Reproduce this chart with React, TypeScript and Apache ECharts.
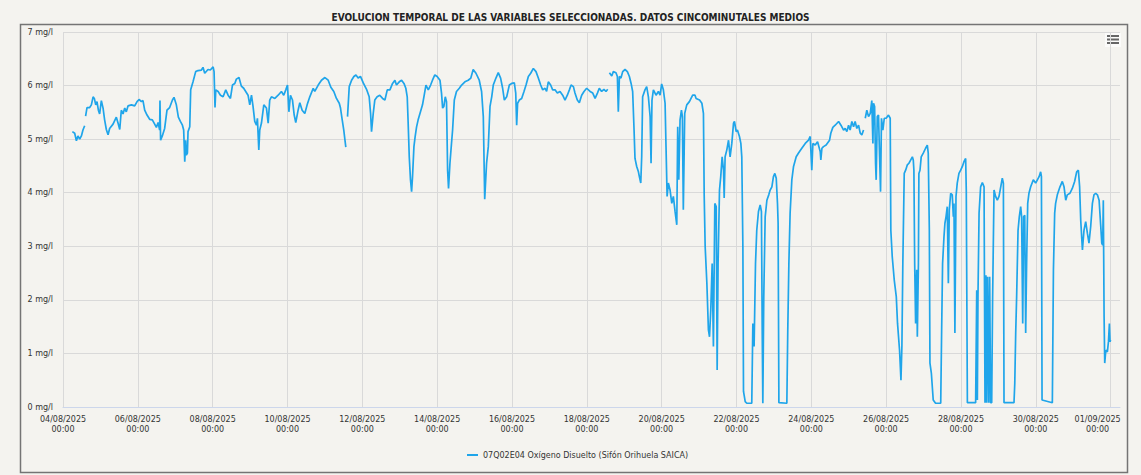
import React, { useEffect, useRef } from 'react';
import * as echarts from 'echarts';

const TITLE = 'EVOLUCION TEMPORAL DE LAS VARIABLES SELECCIONADAS. DATOS CINCOMINUTALES MEDIOS';
const SERIES_NAME = '07Q02E04 Oxígeno Disuelto (Sifón Orihuela SAICA)';
const UNIT = 'mg/l';
// hours since 04/08/2025 00:00
const X_TICK_HOURS = [0, 48, 96, 144, 192, 240, 288, 336, 384, 432, 480, 528, 576, 624, 672];
const X_TICK_DATES = [
  '04/08/2025', '06/08/2025', '08/08/2025', '10/08/2025', '12/08/2025', '14/08/2025', '16/08/2025',
  '18/08/2025', '20/08/2025', '22/08/2025', '24/08/2025', '26/08/2025', '28/08/2025', '30/08/2025', '01/09/2025',
];
const X_TICK_TIME = '00:00';
const X_MAX_HOURS = 678;
const Y_TICKS = [0, 1, 2, 3, 4, 5, 6, 7];

type P = [number, number | null];

const week1: P[] = [
  [6.0, 5.14], [7.5, 5.11], [8.6, 4.97], [9.6, 5.06], [10.7, 5.0], [11.8, 5.06], [12.8, 5.17], [13.9, 5.25], [14.2, null],
  [14.5, 5.43], [15.4, 5.59], [17.1, 5.59], [18.2, 5.64], [19.3, 5.79], [20.1, 5.76], [21.0, 5.64], [21.8, 5.7], [22.7, 5.54],
  [23.5, 5.47], [24.6, 5.72], [25.7, 5.58], [26.7, 5.36], [27.8, 5.18], [28.9, 5.08], [29.9, 5.2], [32.1, 5.28], [34.2, 5.41],
  [35.3, 5.3], [36.4, 5.18], [37.4, 5.54], [38.5, 5.47], [39.6, 5.58], [40.6, 5.51], [41.7, 5.62], [43.9, 5.64], [46.0, 5.62],
  [47.5, 5.7], [48.8, 5.74], [50.3, 5.7], [51.3, 5.72], [52.4, 5.54], [53.9, 5.45], [55.6, 5.37], [57.3, 5.36], [58.8, 5.28],
  [59.9, 5.22], [61.0, 5.31], [62.0, 5.17], [62.2, 5.72], [62.6, 4.98], [63.7, 5.06], [65.2, 5.2], [66.7, 5.54], [68.4, 5.59],
  [70.2, 5.73], [71.2, 5.78], [72.7, 5.64], [74.0, 5.41], [75.3, 5.33], [76.6, 5.26], [77.4, 5.17], [78.1, 4.58], [78.7, 4.98],
  [79.1, 4.7], [79.8, 4.74], [80.2, 5.14], [81.3, 5.23], [81.9, 5.92], [83.4, 6.07], [85.1, 6.26], [86.6, 6.28], [88.8, 6.29],
  [89.8, 6.34], [90.9, 6.23], [93.0, 6.3], [94.5, 6.29], [96.3, 6.35], [96.9, 6.26], [97.5, 5.59], [98.0, 5.92], [99.5, 5.89],
  [101.0, 5.82], [102.7, 5.79], [104.4, 5.92], [105.9, 5.82], [107.4, 5.76], [108.7, 6.01], [110.2, 6.04], [111.2, 6.12],
  [112.9, 6.15], [114.4, 5.99], [115.9, 5.95], [117.2, 5.89], [118.7, 5.82], [119.8, 5.64], [120.9, 5.82], [121.9, 5.61],
  [123.0, 5.33], [124.1, 5.26], [124.7, 5.39], [125.6, 4.8], [126.2, 5.17], [127.3, 5.3], [128.8, 5.64], [130.5, 5.58],
  [131.6, 5.3], [132.6, 5.73], [133.7, 5.79], [135.9, 5.76], [138.0, 5.82], [140.1, 5.89], [141.6, 5.82], [142.9, 5.92],
  [144.0, 6.01], [144.9, 5.51], [145.9, 5.82], [147.2, 5.73], [148.3, 5.45], [149.3, 5.31], [150.8, 5.54], [151.9, 5.68],
  [153.4, 5.54], [155.1, 5.48], [156.6, 5.64], [158.3, 5.79], [160.5, 5.95], [161.5, 5.89], [163.7, 6.01], [165.8, 6.1], [168.0, 6.15],
];

const week2: P[] = [
  [170.1, 6.1], [171.8, 5.97], [173.7, 5.89], [175.4, 5.76], [177.2, 5.67], [178.0, 5.58], [179.1, 5.36], [180.1, 5.17],
  [181.0, 4.95], [181.4, 4.85], [181.9, null], [182.5, 5.42], [183.6, 5.98], [185.1, 6.1], [186.6, 6.17], [187.9, 6.2],
  [189.3, 6.14], [190.8, 6.17], [192.6, 6.05], [194.7, 5.93], [196.4, 5.79], [197.3, 5.48], [197.9, 5.14], [199.0, 5.48],
  [200.0, 5.73], [201.5, 5.79], [203.2, 5.82], [205.0, 5.76], [206.5, 5.73], [208.0, 5.92], [209.7, 5.92], [211.4, 6.04],
  [212.9, 6.1], [213.9, 6.01], [215.7, 6.07], [217.2, 6.1], [218.7, 6.04], [219.9, 5.95], [220.8, 5.79], [221.4, 5.3],
  [222.1, 4.67], [222.9, 4.24], [223.6, 4.02], [224.2, 4.3], [225.1, 4.86], [225.9, 5.05], [226.8, 5.23], [227.8, 5.36],
  [229.3, 5.51], [230.6, 5.64], [231.7, 5.82], [232.8, 6.01], [234.3, 5.92], [235.8, 6.01], [237.0, 6.1], [238.5, 6.2],
  [240.0, 6.17], [241.8, 6.1], [242.8, 5.86], [243.5, 5.58], [244.3, 5.61], [245.2, 5.79], [246.0, 5.7], [246.7, 4.42],
  [247.3, 4.08], [248.2, 4.55], [249.2, 4.92], [249.9, 5.17], [251.0, 5.73], [252.4, 5.89], [254.2, 5.95], [255.7, 6.01],
  [257.8, 6.07], [259.9, 6.1], [261.6, 6.14], [263.1, 6.3], [264.9, 6.23], [267.0, 6.1], [268.5, 5.89], [269.6, 5.42],
  [270.5, 3.88], [271.7, 4.55], [272.8, 4.86], [273.9, 5.61], [275.0, 5.79], [276.0, 6.01], [277.7, 6.14], [279.2, 6.24],
  [280.7, 6.14], [282.0, 5.95], [283.1, 5.73], [284.6, 5.79], [286.3, 6.01], [287.8, 6.04], [289.5, 6.05], [290.4, 5.86],
  [291.0, 5.26], [291.6, 5.67], [292.7, 5.73], [294.2, 5.76], [295.7, 5.89], [297.0, 6.01], [298.5, 6.17], [300.0, 6.23],
  [301.7, 6.32], [303.4, 6.26], [304.9, 6.14], [306.4, 6.01], [307.7, 5.92], [309.2, 5.95], [310.2, 5.89], [311.3, 6.07],
  [312.8, 6.01], [314.1, 5.92], [315.6, 5.92], [317.1, 5.86], [318.8, 5.89], [320.5, 5.82], [322.0, 5.73], [323.5, 5.82],
  [324.8, 5.92], [325.9, 6.01], [327.4, 5.98], [328.4, 5.86], [329.9, 5.73], [331.2, 5.68], [332.7, 5.82], [334.2, 5.89], [335.9, 5.95],
];

const week3: P[] = [
  [338.1, 5.89], [339.8, 5.86], [341.3, 5.76], [342.8, 5.86], [344.0, 5.95], [345.5, 5.89], [347.0, 5.93], [348.3, 5.89],
  [349.4, 5.93], [349.9, null], [350.5, 6.24], [352.0, 6.18], [353.0, 6.26], [354.7, 6.24], [355.6, 6.17], [356.2, 5.51],
  [356.9, 6.17], [357.9, 6.14], [359.0, 6.26], [360.5, 6.3], [362.0, 6.26], [363.3, 6.17], [364.4, 6.04], [365.4, 5.89],
  [366.3, 5.17], [366.9, 4.64], [368.0, 4.49], [369.1, 4.39], [369.7, 4.3], [370.6, 4.18], [371.2, 4.67], [371.8, 5.79],
  [373.3, 5.92], [374.4, 5.98], [375.5, 5.79], [376.6, 5.42], [377.2, 4.55], [377.8, 5.73], [378.7, 5.92], [380.4, 5.82],
  [381.9, 5.89], [383.0, 5.82], [384.0, 6.03], [385.1, 5.92], [386.2, 5.67], [386.8, 4.86], [387.5, 3.93], [388.3, 4.18],
  [389.4, 4.05], [390.5, 3.8], [391.5, 3.93], [392.6, 3.65], [393.7, 3.4], [394.3, 5.23], [395.0, 4.24], [395.8, 5.36],
  [396.7, 5.54], [397.3, 5.42], [397.9, 3.68], [398.8, 5.48], [400.1, 5.64], [401.8, 5.7], [403.9, 5.82], [405.4, 5.82],
  [406.1, 5.76], [408.3, 5.73], [409.8, 5.67], [410.8, 5.48], [411.3, 3.93], [411.9, 3.0], [413.0, 2.31], [414.0, 1.44],
  [414.7, 1.31], [415.5, 1.81], [416.4, 2.68], [417.2, 1.13], [418.1, 3.8], [419.0, 3.74], [419.6, 0.69], [420.2, 2.68],
  [421.1, 4.05], [421.9, 4.3], [422.8, 4.67], [423.7, 4.42], [424.1, 3.9], [424.7, 4.67], [425.8, 4.8], [426.9, 4.98],
  [427.9, 4.67], [429.0, 4.92], [430.1, 5.3], [430.7, 5.33], [431.8, 5.14], [432.6, 5.17], [433.9, 5.05], [434.8, 4.92],
  [435.4, 4.67], [436.1, 3.0], [436.5, 0.29], [437.6, 0.1], [438.6, 0.07], [441.8, 0.07], [442.5, 1.56], [443.3, 1.13],
  [444.2, 2.68], [445.0, 3.3], [446.1, 3.65], [447.2, 3.77], [448.0, 3.65], [448.5, 1.44], [448.9, 0.07], [449.5, 2.06],
  [450.4, 3.55], [451.5, 3.86], [452.7, 3.96], [453.6, 4.05], [454.7, 4.11], [455.7, 4.3], [456.6, 4.36], [457.5, 4.27],
  [458.3, 3.8], [458.7, 3.43], [459.2, 0.08], [464.3, 0.07], [464.9, 1.44], [465.6, 2.68], [466.4, 3.62], [467.5, 4.24],
  [468.6, 4.49], [470.3, 4.67], [471.8, 4.74], [473.9, 4.83], [476.1, 4.92], [478.2, 4.98], [479.3, 5.05], [480.3, 4.42],
  [481.0, 4.92], [482.5, 4.89], [484.0, 4.95], [485.7, 4.77], [486.1, 4.61], [486.8, 4.83], [487.8, 4.86], [489.5, 4.89],
  [491.7, 4.98], [492.5, 5.11], [493.8, 5.22], [495.3, 5.26], [497.5, 5.33], [499.0, 5.26], [500.7, 5.17], [501.7, 5.2], [502.8, 5.14],
];

const week4: P[] = [
  [503.9, 5.26], [504.9, 5.17], [506.0, 5.33], [507.1, 5.23], [508.1, 5.33], [509.2, 5.2], [510.3, 5.26], [511.4, 5.11],
  [512.4, 5.08], [513.5, 5.17], [514.0, null], [514.6, 5.39], [515.6, 5.54], [516.7, 5.42], [517.8, 5.48], [518.8, 5.72],
  [519.5, 4.92], [519.9, 5.67], [520.6, 5.61], [521.2, 4.55], [521.6, 4.24], [522.3, 5.42], [523.1, 5.45], [523.8, 4.67],
  [524.4, 4.02], [525.0, 5.39], [525.9, 5.17], [526.8, 5.39], [528.0, 5.39], [529.5, 5.45], [530.6, 5.39], [531.0, 3.3],
  [531.9, 2.81], [533.2, 2.37], [534.5, 2.06], [535.3, 1.56], [536.6, 1.06], [537.5, 0.5], [538.1, 1.13], [538.7, 2.68],
  [539.6, 4.36], [540.5, 4.42], [541.6, 4.52], [542.6, 4.55], [543.7, 4.61], [544.8, 4.67], [545.4, 4.61], [545.8, 4.42],
  [546.3, 2.68], [546.9, 1.56], [547.6, 2.56], [548.0, 1.31], [548.7, 2.68], [549.0, 4.36], [549.7, 4.42], [550.5, 4.67],
  [551.8, 4.74], [553.3, 4.83], [554.4, 4.89], [555.0, 4.74], [555.7, 3.3], [556.1, 0.82], [557.0, 0.63], [558.2, 0.13],
  [559.7, 0.07], [563.0, 0.07], [563.6, 1.44], [564.2, 2.68], [565.1, 3.18], [565.7, 3.43], [566.4, 3.55], [567.2, 3.74],
  [567.9, 2.31], [568.5, 3.68], [569.4, 3.99], [570.4, 3.96], [571.1, 3.55], [571.5, 3.8], [572.1, 1.38], [572.8, 3.93],
  [573.6, 4.18], [574.7, 4.36], [575.8, 4.42], [576.9, 4.49], [577.9, 4.58], [579.0, 4.64], [579.4, 4.05], [580.1, 0.08],
  [585.4, 0.08], [586.1, 2.18], [586.5, 0.13], [586.9, 2.06], [587.6, 3.62], [588.6, 4.11], [589.7, 4.19], [590.8, 4.11],
  [591.4, 0.08], [592.0, 2.46], [592.5, 0.08], [593.1, 2.43], [593.8, 0.08], [594.4, 2.43], [595.0, 0.08], [595.7, 0.08],
  [596.3, 2.06], [597.2, 4.05], [598.2, 3.93], [599.3, 3.86], [600.4, 3.93], [601.5, 4.11], [602.5, 4.27], [603.2, 4.18],
  [603.6, 0.08], [610.0, 0.08], [610.5, 0.44], [611.1, 1.38], [611.7, 2.06], [612.6, 3.3], [613.4, 3.55], [614.3, 3.74],
  [614.9, 3.55], [615.6, 1.56], [616.2, 3.55], [616.9, 3.58], [617.5, 1.38], [618.1, 2.68], [618.8, 3.8], [619.6, 3.99],
  [620.7, 4.11], [622.4, 4.24], [623.9, 4.18], [625.0, 4.24], [626.1, 4.3], [627.1, 4.39], [627.6, 4.3], [628.0, 0.13],
  [634.6, 0.08], [635.3, 2.56], [636.1, 3.62], [636.7, 3.8], [637.8, 3.96], [639.5, 4.11], [641.0, 4.21], [642.1, 4.11],
  [643.2, 3.86], [644.2, 3.96], [645.9, 3.99], [647.4, 4.08], [648.9, 4.21], [650.2, 4.39], [651.3, 4.42], [652.1, 4.11],
  [652.8, 3.49], [653.9, 2.93], [654.9, 3.3], [656.0, 3.46], [657.1, 3.24], [658.1, 3.06], [659.2, 3.37], [660.3, 3.8],
  [661.3, 3.96], [662.4, 3.99], [663.5, 3.96], [664.6, 3.86], [665.6, 3.4], [666.3, 3.06], [666.9, 3.02], [667.3, 3.86],
  [667.8, 1.69], [668.2, 0.82], [668.9, 1.06], [669.9, 1.03], [670.6, 1.22], [671.2, 1.56], [671.6, 1.22], [672.0, 1.25],
];

const LINE_COLOR = '#1fa5ea';
const TEXT_FONT = "'DejaVu Sans', Verdana, sans-serif";

export default function App() {
  const ref = useRef<HTMLDivElement>(null);
  useEffect(() => {
    if (!ref.current) return;
    const chart = echarts.init(ref.current, undefined, { renderer: 'svg' });
    const data = [...week1, ...week2, ...week3, ...week4];
    const lastHour = X_TICK_HOURS[X_TICK_HOURS.length - 1];
    const option: any = {
      animation: false,
      backgroundColor: '#f4f3ef',
      title: {
        text: TITLE,
        left: 'center',
        top: 7,
        textStyle: {
          fontFamily: "'Liberation Sans Narrow', 'Arial Narrow', 'DejaVu Sans Condensed', sans-serif",
          fontWeight: 'bold',
          fontSize: 10,
          color: '#222',
        },
      },
      grid: { left: 63, right: 21, top: 32, bottom: 68, containLabel: false, outerBoundsMode: 'none' },
      legend: {
        data: [SERIES_NAME],
        left: 462,
        top: 446,
        icon: 'rect',
        itemWidth: 11,
        itemHeight: 2,
        textStyle: { fontFamily: TEXT_FONT, fontSize: 8, color: '#333' },
      },
      xAxis: {
        type: 'value',
        min: 0,
        max: X_MAX_HOURS,
        interval: 48,
        axisLine: { show: true, lineStyle: { color: '#ccd6eb', width: 1 } },
        axisTick: { show: false },
        splitLine: { show: true, showMaxLine: false, lineStyle: { color: '#d9d9d9', width: 1 } },
        axisLabel: {
          margin: 7,
          showMaxLabel: false,
          fontFamily: TEXT_FONT,
          fontSize: 8,
          lineHeight: 10,
          color: '#333',
          formatter: (v: number) => {
            const i = X_TICK_HOURS.indexOf(v);
            if (i < 0) return '';
            if (v === lastHour) return `{last|${X_TICK_DATES[i]}}\n{last|${X_TICK_TIME}}`;
            return `${X_TICK_DATES[i]}\n${X_TICK_TIME}`;
          },
          rich: {
            last: { fontFamily: TEXT_FONT, fontSize: 8, lineHeight: 10, color: '#333', padding: [0, 26, 0, 0] },
          },
        },
      },
      yAxis: {
        type: 'value',
        min: Y_TICKS[0],
        max: Y_TICKS[Y_TICKS.length - 1],
        interval: 1,
        axisLine: { show: false },
        axisTick: { show: false },
        splitLine: { show: true, lineStyle: { color: '#d9d9d9', width: 1 } },
        axisLabel: {
          margin: 10,
          fontFamily: TEXT_FONT,
          fontSize: 8,
          color: '#333',
          formatter: (v: number) => `${v} ${UNIT}`,
        },
      },
      series: [
        {
          name: SERIES_NAME,
          type: 'line',
          data,
          showSymbol: false,
          symbol: 'none',
          connectNulls: false,
          lineStyle: { color: LINE_COLOR, width: 1.7 },
          itemStyle: { color: LINE_COLOR },
        },
      ],
      graphic: [
        {
          type: 'rect',
          shape: { x: 20.5, y: 24.5, width: 1107, height: 448 },
          style: { fill: 'none', stroke: '#747474', lineWidth: 1.5 },
          silent: true,
        },
        {
          type: 'group',
          silent: true,
          children: [
            { type: 'rect', shape: { x: 1105, y: 33, width: 16, height: 14 }, style: { fill: '#fbfbfa' } },
            { type: 'rect', shape: { x: 1107, y: 35, width: 12, height: 2 }, style: { fill: '#666' } },
            { type: 'rect', shape: { x: 1107, y: 38.5, width: 12, height: 2 }, style: { fill: '#666' } },
            { type: 'rect', shape: { x: 1107, y: 42, width: 12, height: 2 }, style: { fill: '#666' } },
          ],
        },
      ],
    };
    chart.setOption(option);
    return () => chart.dispose();
  }, []);
  return <div ref={ref} style={{ position: 'fixed', left: 0, top: 0, width: 1141, height: 475 }} />;
}
